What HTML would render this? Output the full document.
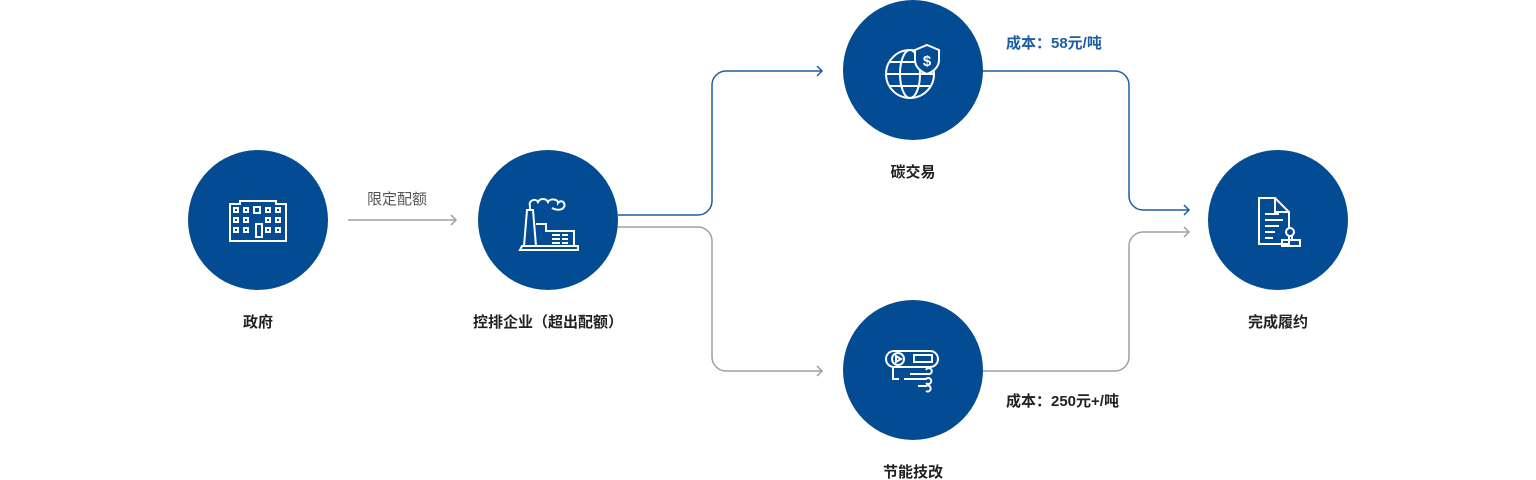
<!DOCTYPE html>
<html><head><meta charset="utf-8"><style>
body{margin:0;background:#fff;width:1536px;height:480px;overflow:hidden;font-family:"Liberation Sans","Noto Sans CJK SC",sans-serif}
svg{position:absolute;left:0;top:0}
</style></head><body>
<svg width="1536" height="480" viewBox="0 0 1536 480" font-family="Liberation Sans, Noto Sans CJK SC, sans-serif">
<g fill="#034c93">
<circle cx="258" cy="220" r="70"/><circle cx="548" cy="220" r="70"/>
<circle cx="913" cy="70" r="70"/><circle cx="913" cy="370" r="70"/>
<circle cx="1278" cy="220" r="70"/>
</g>
<g fill="none" stroke-width="1.5">
<path d="M348 220H456M451 215l5 5-5 5" stroke="#9aa1ab"/>
<path d="M618 215H698a14 14 0 0 0 14-14V85a14 14 0 0 1 14-14H822M817 66l5 5-5 5" stroke="#1d5ea3"/>
<path d="M618 227H698a14 14 0 0 1 14 14V357a14 14 0 0 0 14 14H822M817 366l5 5-5 5" stroke="#9aa1ab"/>
<path d="M983 71H1115a14 14 0 0 1 14 14V196a14 14 0 0 0 14 14H1189M1184 205l5 5-5 5" stroke="#1d5ea3"/>
<path d="M983 371H1115a14 14 0 0 0 14-14V246a14 14 0 0 1 14-14H1189M1184 227l5 5-5 5" stroke="#9aa1ab"/>
</g>
<g fill="none" stroke="#fff" stroke-width="2">
<path d="M230 241V204h10v-3h36v3h10v37z"/>
<rect x="234" y="208" width="4" height="4"/><rect x="244" y="208" width="4" height="4"/><rect x="254" y="207" width="6" height="6"/><rect x="266" y="208" width="4" height="4"/><rect x="276" y="208" width="4" height="4"/>
<rect x="234" y="218" width="4" height="4"/><rect x="244" y="218" width="4" height="4"/><rect x="266" y="218" width="4" height="4"/><rect x="276" y="218" width="4" height="4"/>
<rect x="234" y="228" width="4" height="4"/><rect x="244" y="228" width="4" height="4"/><rect x="256" y="224" width="6" height="13"/><rect x="266" y="228" width="4" height="4"/><rect x="276" y="228" width="4" height="4"/>
<path d="M520 250h58v-4h-56z"/><path d="M524 246l3-36h6l3 36M530 210v-4M536 224h10v7h28v15"/>
<path d="M530 206c-2-6 6-8 8-4c2-4 8-4 10 0c2-4 10-3 10 1c4-5 10 2 4 6c-4 2-8 0-10-1"/>
<path d="M552 235h8M552 239h8M552 243h8M562 235h6M562 239h6M562 243h6"/>
<circle cx="910" cy="74" r="24"/><ellipse cx="910" cy="74" rx="10" ry="24"/><path d="M886 74h48M890 62h40M890 86h40"/>
<path d="M927 45l12 5v10c0 7-6 12-12 14c-6-2-12-7-12-14v-10z" fill="#034c93"/>
<text x="927" y="66" font-size="15" fill="#fff" stroke="none" text-anchor="middle" font-weight="bold">$</text>
<rect x="886" y="351" width="52" height="16" rx="8"/><circle cx="898" cy="359" r="6"/><path d="M896 356v6l5-3z"/><rect x="914" y="355" width="18" height="7"/>
<path d="M893 367v12h6M904 379h22a3 3 0 1 1 0 4M910 374h18a3 3 0 1 0 -2-4M918 386h8a3 3 0 1 1 0 5"/>
<path d="M1259 198v46h30v-32l-14-14z" /><path d="M1275 198v14h14"/>
<path d="M1265 214h14M1265 220h18M1265 226h14M1265 232h10M1265 238h8"/>
<circle cx="1290" cy="232" r="4" fill="#034c93"/><path d="M1282 246h18v-6h-18zM1288 236h4v4"/>
</g>
<g font-size="15" fill="#222" text-anchor="middle" font-weight="bold">
<text x="258" y="327">政府</text>
<text x="548" y="327">控排企业（超出配额）</text>
<text x="913" y="177">碳交易</text>
<text x="913" y="477">节能技改</text>
<text x="1278" y="327">完成履约</text>
</g>
<text x="397" y="204" font-size="15" fill="#555" text-anchor="middle">限定配额</text>
<text x="1006" y="48" font-size="15" fill="#1d5ea3" font-weight="bold">成本：58元/吨</text>
<text x="1006" y="406" font-size="15" fill="#222" font-weight="bold">成本：250元+/吨</text>
</svg>
</body></html>
